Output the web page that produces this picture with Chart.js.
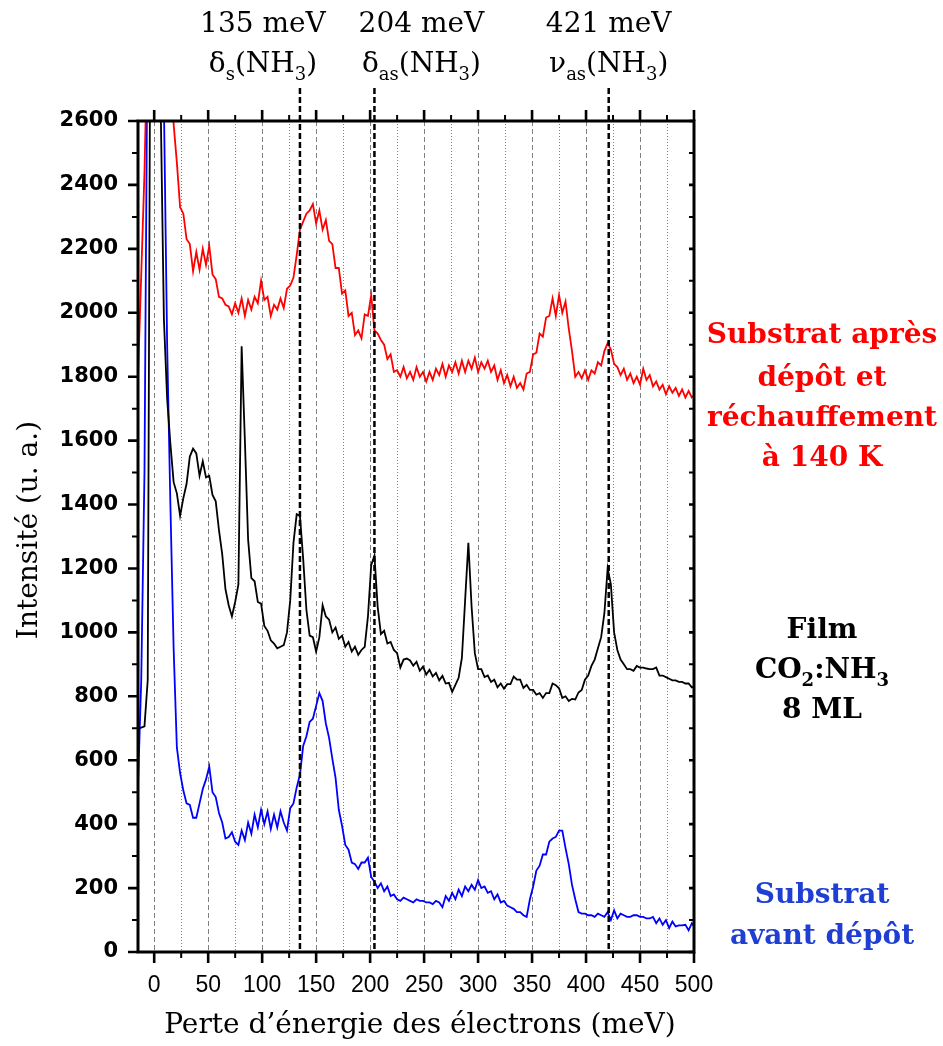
<!DOCTYPE html>
<html>
<head>
<meta charset="utf-8">
<title>Perte d'énergie des électrons</title>
<script src="https://cdn.jsdelivr.net/npm/chart.js"></script>
<style>
  body { margin: 0; background: #fff; }
</style>
</head>
<body>
<canvas id="eels" width="943" height="1046"></canvas>
<script>
// energy loss grid (meV)
const energy = [
  -15, -12, -9, -6, -3, 0, 3, 6, 9, 12,
  15, 18, 21, 24, 27, 30, 33, 36, 39, 42,
  45, 48, 51, 54, 57, 60, 63, 66, 69, 72,
  75, 78, 81, 84, 87, 90, 93, 96, 99, 102,
  105, 108, 111, 114, 117, 120, 123, 126, 129, 132,
  135, 138, 141, 144, 147, 150, 153, 156, 159, 162,
  165, 168, 171, 174, 177, 180, 183, 186, 189, 192,
  195, 198, 201, 204, 207, 210, 213, 216, 219, 222,
  225, 228, 231, 234, 237, 240, 243, 246, 249, 252,
  255, 258, 261, 264, 267, 270, 273, 276, 279, 282,
  285, 288, 291, 294, 297, 300, 303, 306, 309, 312,
  315, 318, 321, 324, 327, 330, 333, 336, 339, 342,
  345, 348, 351, 354, 357, 360, 363, 366, 369, 372,
  375, 378, 381, 384, 387, 390, 393, 396, 399, 402,
  405, 408, 411, 414, 417, 420, 423, 426, 429, 432,
  435, 438, 441, 444, 447, 450, 453, 456, 459, 462,
  465, 468, 471, 474, 477, 480, 483, 486, 489, 492,
  495, 498, 501
];

// substrat après dépôt et réchauffement à 140 K
const apresRechauffement = [
  1800, 2120, 2440, 2900, 5000, 9000, 7000, 5200, 4000, 3300,
  2900, 2590, 2470, 2330, 2310, 2230, 2215, 2130, 2190, 2135,
  2200, 2150, 2210, 2120, 2105, 2050, 2045, 2025, 2020, 1995,
  2030, 2000, 2045, 1990, 2040, 2010, 2050, 2030, 2100, 2040,
  2050, 1990, 2025, 2010, 2045, 2015, 2075, 2085, 2110, 2180,
  2260, 2285, 2310, 2320, 2340, 2280, 2320, 2260, 2290, 2225,
  2215, 2140, 2140, 2060, 2070, 1990, 2000, 1930, 1945, 1920,
  1995, 1990, 2055, 1945, 1935, 1915, 1900, 1855, 1870, 1815,
  1820, 1800, 1830, 1795, 1815, 1790, 1830, 1800, 1815, 1785,
  1815, 1790, 1825, 1805, 1840, 1800, 1835, 1815, 1845, 1810,
  1850, 1815, 1850, 1825, 1860, 1815, 1845, 1825, 1850, 1815,
  1835, 1790, 1820, 1780, 1805, 1770, 1800, 1765, 1780, 1760,
  1810, 1815, 1870, 1875, 1935, 1925, 1985, 1990, 2045, 1990,
  2055, 2000, 2035, 1950, 1880, 1800, 1815, 1795, 1820, 1790,
  1820, 1810, 1845, 1835, 1880, 1905, 1885, 1840, 1830, 1805,
  1825, 1790, 1810, 1780, 1800, 1775, 1825, 1790, 1805, 1770,
  1785, 1760, 1775, 1745, 1770, 1750, 1765, 1740, 1760, 1735,
  1755, 1735, 1745
];

// film CO2:NH3, 8 ML
const film = [
  700, 702, 706, 850, 3500, 6000, 7000, 2650, 1980, 1730,
  1590, 1470, 1435, 1365, 1420, 1465, 1550, 1575, 1560, 1490,
  1535, 1485, 1490, 1430, 1410, 1320, 1245, 1135, 1085, 1050,
  1095, 1150, 1895, 1600, 1290, 1170, 1160, 1095, 1090, 1020,
  1005, 975, 965, 950, 955, 960, 1000, 1100, 1280, 1370,
  1365, 1230, 1070, 990, 985, 940, 985, 1085, 1050, 1040,
  1000, 1015, 980, 990, 955, 970, 940, 955, 930, 945,
  955, 1050, 1210, 1240, 1080, 995, 1005, 965, 970, 945,
  935, 890, 915, 918, 912, 896, 908, 880, 893, 868,
  883, 862, 873, 850, 864, 840, 842, 814, 836, 858,
  920, 1100, 1280, 1080, 935, 885, 885, 860, 865, 845,
  852, 828, 840, 824, 838, 838, 862, 852, 852, 826,
  836, 820, 820, 805, 810, 795, 810, 810, 840, 835,
  825, 795, 800, 785, 792, 790, 812, 820, 852, 865,
  895, 915, 950, 985, 1060, 1200, 1150, 1000, 945, 915,
  900, 885, 885, 880, 895, 890, 890, 887, 885, 885,
  890, 865, 865, 860, 855, 850, 850, 845, 845, 840,
  840, 828, 832
];

// substrat avant dépôt
const avantDepot = [
  520, 850, 1500, 3000, 7000, 10000, 7000, 4000, 2650, 1900,
  1400, 950, 640, 560, 505, 465, 460, 420, 420, 465,
  510, 540, 580, 500, 485, 435, 405, 355, 360, 375,
  345, 335, 380, 350, 405, 370, 430, 390, 445, 400,
  440, 385, 430, 390, 440, 405, 380, 450, 465, 515,
  555, 645, 675, 720, 730, 770, 810, 785, 715, 670,
  605, 545, 445, 395, 335, 320, 280, 275, 260, 280,
  280, 295, 235, 220, 200, 215, 190, 205, 175, 180,
  165, 160, 170, 165, 160, 155, 165, 160, 160, 155,
  155, 150, 160, 155, 140, 175, 160, 185, 165, 195,
  175, 205, 190, 210, 195, 225, 200, 205, 185, 190,
  165, 180, 155, 160, 145, 140, 135, 125, 125, 115,
  110, 165, 205, 255, 270, 305, 305, 345, 355, 360,
  380, 380, 325, 275, 210, 165, 125, 120, 120, 115,
  115, 110, 120, 115, 110, 125, 100, 130, 105, 120,
  115, 110, 110, 115, 115, 110, 110, 105, 105, 110,
  90, 105, 85, 100, 75, 95, 80, 83, 83, 85,
  68, 90, 75
];

// NH3 modes marked by vertical dashed lines
const modeEnergies = [135, 204, 421];
const modeSymbols = [['δ', 's'], ['δ', 'as'], ['ν', 'as']];
const modeLabelShift = [-37, 47, 0];

const xMin = -15, xMax = 500, yMin = 0, yMax = 2600;

function toPoints(ys) {
  return ys.map((y, i) => ({ x: energy[i], y: y }));
}

// draws a line of text made of [string, isSubscript] parts, centred on cx
function drawParts(ctx, parts, cx, y, size, family, weight) {
  const main = weight + ' ' + size + 'px ' + family;
  const sub = weight + ' ' + Math.round(size * 0.66) + 'px ' + family;
  let w = 0;
  parts.forEach(p => { ctx.font = p[1] ? sub : main; w += ctx.measureText(p[0]).width; });
  let x = cx - w / 2;
  ctx.textAlign = 'left';
  ctx.textBaseline = 'alphabetic';
  parts.forEach(p => {
    ctx.font = p[1] ? sub : main;
    ctx.fillText(p[0], x, p[1] ? y + size * 0.28 : y);
    x += ctx.measureText(p[0]).width;
  });
}

const decorations = {
  id: 'decorations',
  beforeDatasetsDraw(chart) {
    const { ctx, chartArea: a, scales: { x } } = chart;
    ctx.save();
    ctx.strokeStyle = '#808080';
    ctx.lineWidth = 1;
    for (let v = 0; v <= 500; v += 25) {
      const px = Math.round(x.getPixelForValue(v)) + 0.5;
      ctx.setLineDash(v % 50 === 0 ? [5, 3] : [1, 2]);
      ctx.beginPath();
      ctx.moveTo(px, a.top);
      ctx.lineTo(px, a.bottom);
      ctx.stroke();
    }
    ctx.restore();
  },
  afterDatasetsDraw(chart) {
    const { ctx, chartArea: a, scales: { x, y } } = chart;
    ctx.save();
    ctx.strokeStyle = '#000';
    ctx.setLineDash([]);

    // ticks on the bottom and top axes, pointing outwards
    for (let v = 0; v <= 500; v += 25) {
      const major = v % 50 === 0;
      const px = x.getPixelForValue(v);
      const len = major ? 11 : 6;
      ctx.lineWidth = major ? 2.6 : 2;
      ctx.beginPath();
      ctx.moveTo(px, a.bottom);
      ctx.lineTo(px, a.bottom + len);
      ctx.moveTo(px, a.top);
      ctx.lineTo(px, a.top - len);
      ctx.stroke();
    }
    // left ticks outwards, right ticks inwards
    for (let v = 0; v <= 2600; v += 100) {
      const major = v % 200 === 0;
      const py = y.getPixelForValue(v);
      ctx.lineWidth = major ? 2.6 : 2;
      ctx.beginPath();
      ctx.moveTo(a.left, py);
      ctx.lineTo(a.left - (major ? 10 : 6), py);
      ctx.moveTo(a.right, py);
      ctx.lineTo(a.right - 5, py);
      ctx.stroke();
    }

    // frame
    ctx.lineWidth = 3;
    ctx.strokeRect(a.left, a.top, a.right - a.left, a.bottom - a.top);

    // NH3 mode positions
    ctx.lineWidth = 2.5;
    ctx.setLineDash([6, 3]);
    modeEnergies.forEach(e => {
      const px = x.getPixelForValue(e);
      ctx.beginPath();
      ctx.moveTo(px, 88);
      ctx.lineTo(px, a.bottom);
      ctx.stroke();
    });
    ctx.restore();
  },
  afterDraw(chart) {
    const { ctx, chartArea: a, scales: { x } } = chart;
    ctx.save();
    ctx.fillStyle = '#000';
    const serif = '"DejaVu Serif"';

    // mode labels above the frame
    modeEnergies.forEach((e, i) => {
      const cx = x.getPixelForValue(e) + modeLabelShift[i];
      drawParts(ctx, [[e + ' meV', 0]], cx, 32, 28, serif, 'normal');
      drawParts(ctx, [[modeSymbols[i][0], 0], [modeSymbols[i][1], 1], ['(NH', 0], ['3', 1], [')', 0]],
        cx, 72, 28, serif, 'normal');
    });

    // axis titles
    ctx.font = '28px ' + serif;
    ctx.textAlign = 'center';
    ctx.textBaseline = 'middle';
    ctx.fillText('Perte d’énergie des électrons (meV)', (a.left + a.right) / 2 + 4, 1026);
    ctx.translate(30, 530);
    ctx.rotate(-Math.PI / 2);
    ctx.fillText('Intensité (u. a.)', 0, 0);
    ctx.setTransform(1, 0, 0, 1, 0, 0);

    // series names on the right
    const cx = 822;
    ctx.fillStyle = '#ff0000';
    [['Substrat après', 343], ['dépôt et', 386], ['réchauffement', 426], ['à 140 K', 466]]
      .forEach(l => drawParts(ctx, [[l[0], 0]], cx, l[1], 28, serif, 'bold'));
    ctx.fillStyle = '#000';
    drawParts(ctx, [['Film', 0]], cx, 638, 28, serif, 'bold');
    drawParts(ctx, [['CO', 0], ['2', 1], [':NH', 0], ['3', 1]], cx, 678, 28, serif, 'bold');
    drawParts(ctx, [['8 ML', 0]], cx, 718, 28, serif, 'bold');
    ctx.fillStyle = '#1f3fd2';
    drawParts(ctx, [['Substrat', 0]], cx, 903, 28, serif, 'bold');
    drawParts(ctx, [['avant dépôt', 0]], cx, 944, 28, serif, 'bold');
    ctx.restore();
  }
};

const series = [
  { label: 'Substrat après dépôt et réchauffement à 140 K', data: toPoints(apresRechauffement), color: '#ff0000' },
  { label: 'Film CO2:NH3 8 ML', data: toPoints(film), color: '#000000' },
  { label: 'Substrat avant dépôt', data: toPoints(avantDepot), color: '#0000ff' }
];

new Chart(document.getElementById('eels'), {
  type: 'line',
  data: {
    datasets: series.map(s => ({
      label: s.label,
      data: s.data,
      borderColor: s.color,
      borderWidth: 1.8,
      pointRadius: 0,
      tension: 0,
      fill: false
    }))
  },
  options: {
    responsive: false,
    animation: false,
    layout: { padding: { top: 121, right: 249, left: 0, bottom: 0 } },
    plugins: { legend: { display: false }, tooltip: { enabled: false } },
    scales: {
      x: {
        type: 'linear',
        min: xMin,
        max: xMax,
        grid: { display: false, drawTicks: false },
        border: { display: false },
        ticks: {
          stepSize: 50,
          includeBounds: false,
          autoSkip: false,
          maxRotation: 0,
          padding: 20,
          color: '#000',
          font: { family: '"Liberation Sans"', size: 23 },
          callback: v => String(v)
        },
        afterFit(scale) { scale.height = 94; }
      },
      y: {
        min: yMin,
        max: yMax,
        grid: { display: false, drawTicks: false },
        border: { display: false },
        ticks: {
          stepSize: 200,
          padding: 20,
          color: '#000',
          font: { family: '"DejaVu Sans"', weight: 'bold', size: 21 },
          callback: v => String(v)
        },
        afterFit(scale) { scale.width = 138; }
      }
    }
  },
  plugins: [decorations]
});
</script>
</body>
</html>
